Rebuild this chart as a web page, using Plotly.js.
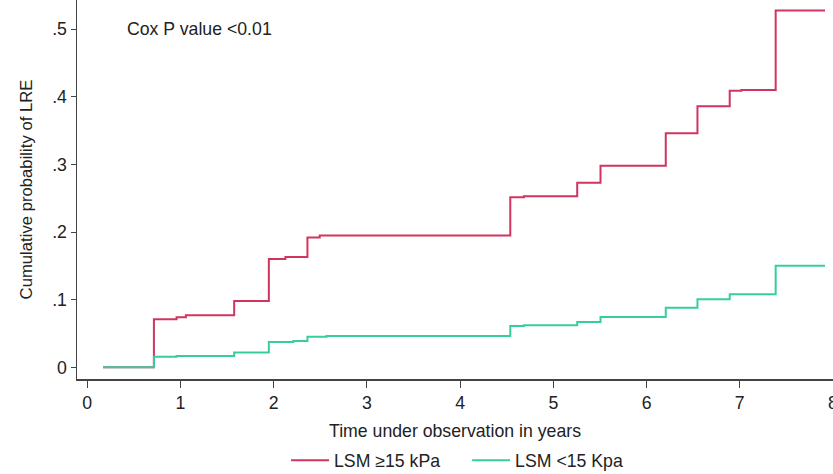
<!DOCTYPE html>
<html>
<head>
<meta charset="utf-8">
<script src="https://cdn.plot.ly/plotly-3.0.1.min.js"></script>
<style>html,body{margin:0;padding:0;background:#fff;}#chart{width:833px;height:474px;}</style>
</head>
<body>
<div id="chart"></div>
<script>
// LSM >= 15 kPa (step function, cumulative probability)
const highTime = [0.17, 0.715, 0.958, 1.058, 1.576, 1.948, 2.126, 2.362, 2.494, 4.538, 4.684, 5.256, 5.506, 6.206, 6.546, 6.892, 7.017, 7.385, 7.914];
const highProb = [0.000, 0.071, 0.074, 0.077, 0.098, 0.160, 0.163, 0.192, 0.195, 0.2515, 0.253, 0.273, 0.298, 0.346, 0.386, 0.409, 0.410, 0.5275, 0.5275];
// LSM < 15 kPa
const lowTime = [0.17, 0.715, 0.958, 1.576, 1.948, 2.21, 2.362, 2.566, 4.538, 4.684, 5.256, 5.506, 6.206, 6.546, 6.892, 7.385, 7.914];
const lowProb = [0.000, 0.0157, 0.0167, 0.022, 0.0374, 0.039, 0.0453, 0.0463, 0.0611, 0.062, 0.067, 0.0744, 0.088, 0.1006, 0.108, 0.150, 0.150];

const seriesNames = ['LSM \u226515 kPa', 'LSM <15 Kpa'];
const xTickVals = [0, 1, 2, 3, 4, 5, 6, 7, 8];
const yTickVals = [0, 0.1, 0.2, 0.3, 0.4, 0.5];
const yTickText = ['0', '.1', '.2', '.3', '.4', '.5'];

const font = 'Liberation Sans, Arial, sans-serif';
const fs = 17.7;
const traces = [
  {x: highTime, y: highProb, name: seriesNames[0], legend: 'legend', mode: 'lines', line: {shape: 'hv', color: '#d1345e', width: 2}},
  {x: lowTime, y: lowProb, name: seriesNames[1], legend: 'legend2', mode: 'lines', line: {shape: 'hv', color: '#36cf9c', width: 2}}
];
const layout = {
  width: 833, height: 474,
  margin: {l: 77, r: 0, t: 0, b: 95, autoexpand: false},
  paper_bgcolor: '#fff', plot_bgcolor: '#fff',
  font: {family: font, size: fs, color: '#222'},
  showlegend: true,
  legend: {orientation: 'h', x: 0.2765, xanchor: 'left', y: -0.216, yanchor: 'middle', itemwidth: 38, font: {size: fs, color: '#222'}, bgcolor: 'rgba(0,0,0,0)'},
  legend2: {orientation: 'h', x: 0.516, xanchor: 'left', y: -0.216, yanchor: 'middle', itemwidth: 38, font: {size: fs, color: '#222'}, bgcolor: 'rgba(0,0,0,0)'},
  xaxis: {
    range: [-0.11, 8.0], showgrid: false, zeroline: false, showline: true, linecolor: '#444', linewidth: 1.5,
    ticks: 'outside', ticklen: 7, tickcolor: '#444', tickvals: xTickVals, automargin: false, ticklabeloverflow: 'allow',
    title: {text: 'Time under observation in years', font: {size: fs}, standoff: 13}
  },
  yaxis: {
    range: [-0.0173, 0.543], showgrid: false, zeroline: false, showline: true, linecolor: '#444', linewidth: 1.5,
    ticks: 'outside', ticklen: 5, tickcolor: '#444', tickvals: yTickVals, ticktext: yTickText, automargin: false,
    title: {text: 'Cumulative probability of LRE', font: {size: 16.7}, standoff: 15}
  },
  annotations: [{xref: 'x', yref: 'y', x: 0.404, y: 0.5, xanchor: 'left', yanchor: 'middle', showarrow: false, text: 'Cox P value <0.01', font: {size: fs, color: '#222'}}]
};
Plotly.newPlot('chart', traces, layout, {displayModeBar: false, staticPlot: true});
</script>
</body>
</html>
